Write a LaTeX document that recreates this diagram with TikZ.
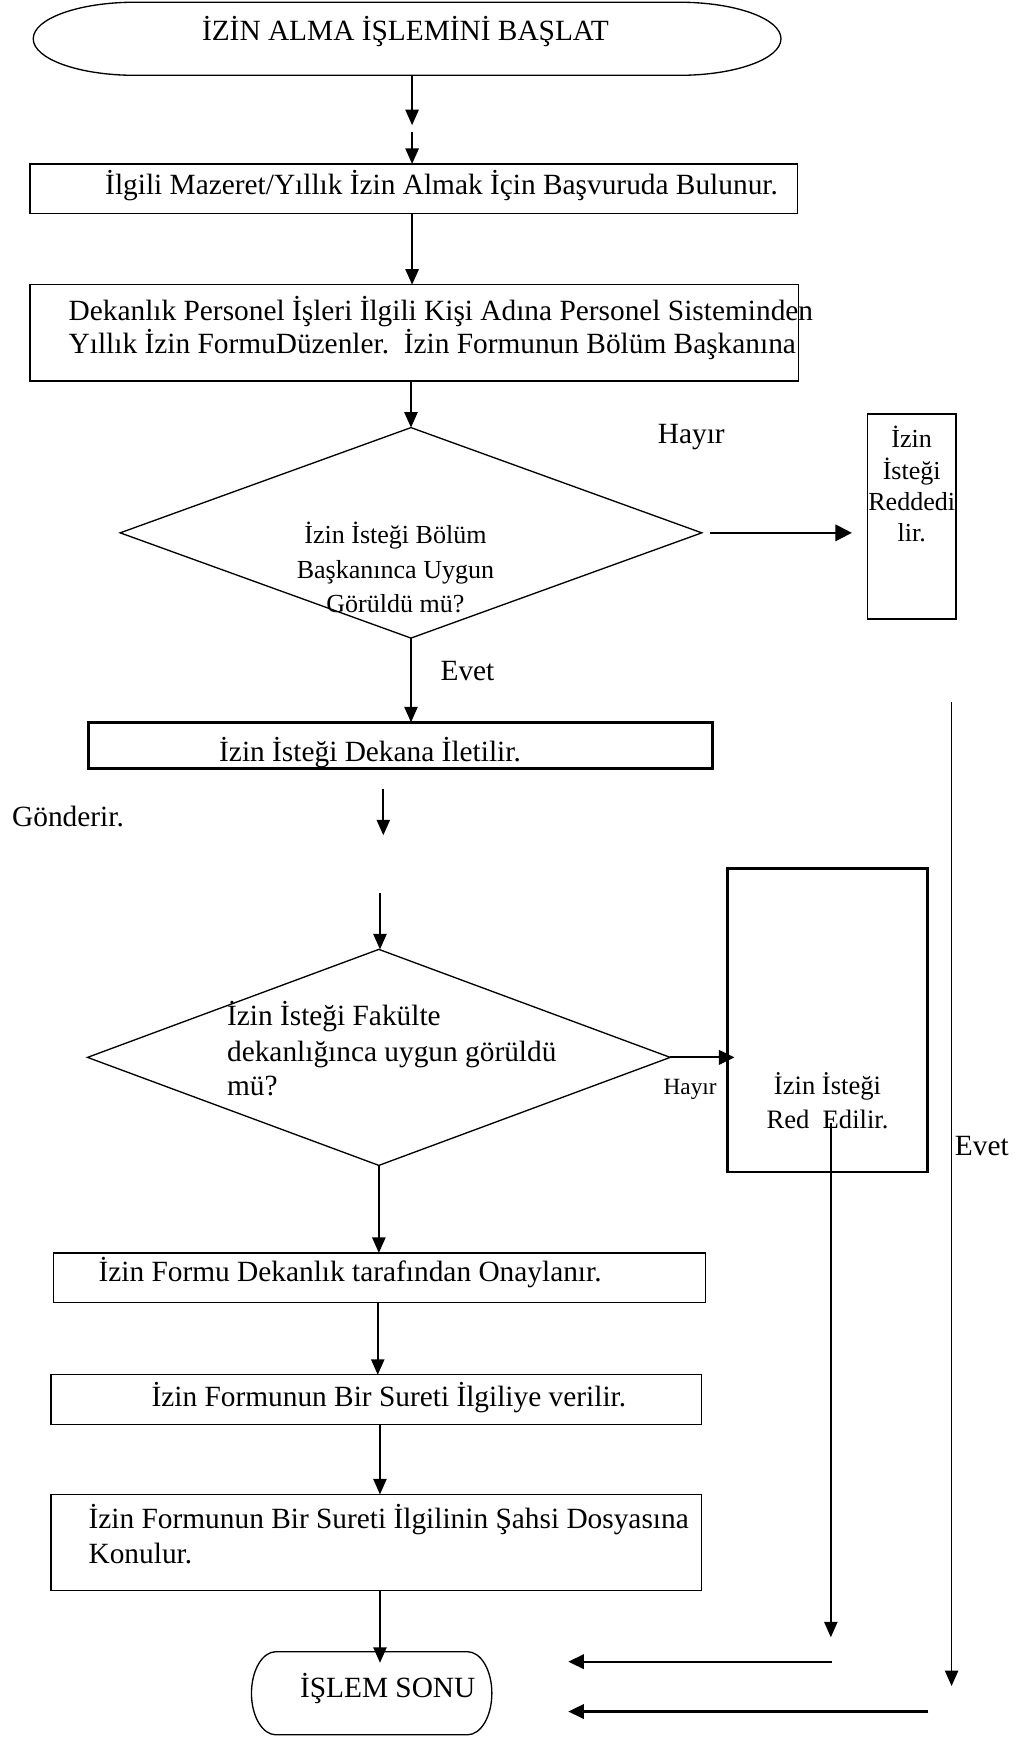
\documentclass[tikz,border=0pt]{standalone}
\usepackage{fontspec}
\setmainfont{Liberation Serif}
\usetikzlibrary{shapes.geometric,arrows.meta}

\begin{document}
\begin{tikzpicture}[x=1pt,y=-1pt,
  every node/.style={inner sep=0pt, outer sep=0pt},
  frame/.style={draw, line width=1.2pt, rectangle},
  heavy/.style={draw, line width=2.4pt, rectangle},
  decision/.style={draw, line width=1.2pt, diamond},
  lbl/.style={anchor=base, font=\fontsize{26.5pt}{30pt}\selectfont},
  lblw/.style={anchor=base west, font=\fontsize{26.5pt}{30pt}\selectfont},
  lblsm/.style={anchor=base, font=\fontsize{23.5pt}{28pt}\selectfont},
  flow/.style={-{Triangle[length=14pt,width=12pt]}, line width=1.5pt},
  boldflow/.style={-{Triangle[length=14pt,width=13pt]}, line width=1.9pt},
]
% page
\fill[white] (0,0) rectangle (927,1568);
\useasboundingbox (0,0) rectangle (927,1568);

% start terminal: flat top and bottom with elliptic ends
\node[rectangle, minimum width=675pt, minimum height=66pt] (start) at (367.5,35) {};
\draw[line width=1.2pt] ([xshift=92pt]start.north west) -- ([xshift=-92pt]start.north east)
  arc[start angle=90, end angle=-90, x radius=92pt, y radius=33pt]
  -- ([xshift=92pt]start.south west)
  arc[start angle=270, end angle=90, x radius=92pt, y radius=33pt] -- cycle;
\node[lbl] (startT) at (366,37) {İZİN ALMA İŞLEMİNİ BAŞLAT};

% gap arrows below the start
\coordinate (g1a) at (372,113);
\coordinate (g1b) at (372,119);
\draw[flow] (start.south -| g1a) -- (g1a);

% step 1
\node[frame, minimum width=693pt, minimum height=45pt] (b1) at (373.5,170.5) {};
\node[lblw] (b1T) at (95,176) {İlgili Mazeret/Yıllık İzin Almak İçin Başvuruda Bulunur.};
\draw[flow] (g1b) -- (g1b |- b1.north);

% step 2
\node[frame, minimum width=694pt, minimum height=87pt] (b2) at (374,300.5) {};
\node[lblw] (b2T1) at (62,289) {Dekanlık Personel İşleri İlgili Kişi Adına Personel Sisteminden};
\node[lblw] (b2T2) at (62,319) {Yıllık İzin FormuDüzenler.\ \ İzin Formunun Bölüm Başkanına};
\draw[flow] (b1.south -| g1a) -- (b2.north -| g1a);

% decision 1
\node[decision, minimum width=525pt, minimum height=190pt] (d1) at (371,481) {};
\node[lblsm] (d1T1) at (357,491) {İzin İsteği Bölüm};
\node[lblsm] (d1T2) at (357,522) {Başkanınca Uygun};
\node[lblsm] (d1T3) at (357,553) {Görüldü mü?};
\draw[flow] (b2.south -| d1.north) -- (d1.north);

% rejection 1
\node[draw, line width=1.5pt, rectangle, minimum width=80pt, minimum height=185pt] (r1) at (823,466.5) {};
\node[lblsm] (r1T1) at (823,404) {İzin};
\node[lblsm] (r1T2) at (823,433) {İsteği};
\node[lblsm] (r1T3) at (823,461) {Reddedi};
\node[lblsm] (r1T4) at (823,489) {lir.};
\node[lbl] (no1) at (624,400) {Hayır};
\draw[-{Triangle[length=15pt,width=15pt]}, line width=1.8pt] ([xshift=7pt]d1.east) -- ([xshift=-14pt]r1.west |- d1.east);

% step 3
\node[heavy, minimum width=563pt, minimum height=42pt] (b3) at (361.5,673) {};
\node[lbl] (b3T) at (334,687) {İzin İsteği Dekana İletilir.};
\draw[flow] (d1.south) -- (d1.south |- b3.north);
\node[lbl] (yes1) at (422,614) {Evet};

% loose arrow and label between steps
\coordinate (g2a) at (346,712);
\coordinate (g2b) at (346,754);
\draw[flow] (g2a) -- (g2b);
\node[lblw] (send) at (11,746) {Gönderir.};

% decision 2
\node[decision, minimum width=526pt, minimum height=195pt] (d2) at (342,954.5) {};
\node[lblw, font=\fontsize{26.5pt}{30pt}\selectfont] (d2T1) at (205,926) {İzin İsteği Fakülte};
\node[lblw, font=\fontsize{26.5pt}{30pt}\selectfont] (d2T2) at (205,958) {dekanlığınca uygun görüldü};
\node[lblw, font=\fontsize{26.5pt}{30pt}\selectfont] (d2T3) at (205,989) {mü?};
\coordinate (g3) at (343,806);
\draw[flow] (g3) -- (g3 |- d2.north);

% rejection 2
\node[heavy, minimum width=180pt, minimum height=274pt] (r2) at (747,921) {};
\node[lbl, font=\fontsize{24pt}{28pt}\selectfont] (r2T1) at (747,988) {İzin İsteği};
\node[lbl, font=\fontsize{24pt}{28pt}\selectfont] (r2T2) at (747,1019) {Red\ \ Edilir.};
\draw[-{Triangle[length=14pt,width=13pt]}, line width=2pt] (d2.east) -- ([xshift=6pt]r2.west |- d2.east);
\node[lbl, font=\fontsize{21pt}{25pt}\selectfont] (no2) at (623,988) {Hayır};

% lines running down to the end
\coordinate (r2out) at (750,1014);
\coordinate (r2end) at (750,1478);
\draw[flow] (r2out) -- (r2end);
\coordinate (ev1) at (859,634);
\coordinate (ev2) at (859,1522);
\draw[flow] (ev1) -- (ev2);
\node[lblw] (yes2) at (862,1043) {Evet};

% step 4
\node[frame, minimum width=589pt, minimum height=45pt] (b4) at (342.5,1153.5) {};
\node[lblw] (b4T) at (89,1157) {İzin Formu Dekanlık tarafından Onaylanır.};
\draw[flow] (d2.south) -- (d2.south |- b4.north);

% step 5
\node[frame, minimum width=587pt, minimum height=45pt] (b5) at (339.5,1263.5) {};
\node[lbl] (b5T) at (351,1270) {İzin Formunun Bir Sureti İlgiliye verilir.};
\coordinate (x341) at (341,0);
\draw[flow] (b4.south -| x341) -- (b5.north -| x341);

% step 6
\node[frame, minimum width=587pt, minimum height=87pt] (b6) at (339.5,1392.5) {};
\node[lblw] (b6T1) at (80,1380) {İzin Formunun Bir Sureti İlgilinin Şahsi Dosyasına};
\node[lblw] (b6T2) at (80,1411) {Konulur.};
\coordinate (x343) at (343,0);
\draw[flow] (b5.south -| x343) -- (b6.north -| x343);

% end terminal
\node[rectangle, minimum width=217pt, minimum height=75pt] (end) at (335.5,1528.5) {};
\draw[line width=1.2pt] ([xshift=22pt]end.north west) -- ([xshift=-22pt]end.north east)
  arc[start angle=90, end angle=-90, x radius=22pt, y radius=37.5pt]
  -- ([xshift=22pt]end.south west)
  arc[start angle=270, end angle=90, x radius=22pt, y radius=37.5pt] -- cycle;
\node[lbl] (endT) at (350,1532) {İŞLEM SONU};
\coordinate (endtip) at (343,1501);
\draw[flow] (b6.south -| endtip) -- (endtip);

% loose arrows pointing to the end
\coordinate (ba1) at (751,1500);
\coordinate (ba1t) at (513,1500);
\draw[boldflow] (ba1) -- (ba1t);
\coordinate (ba2) at (838,1545);
\coordinate (ba2t) at (513,1545);
\draw[boldflow] (ba2) -- (ba2t);
\end{tikzpicture}
\end{document}
